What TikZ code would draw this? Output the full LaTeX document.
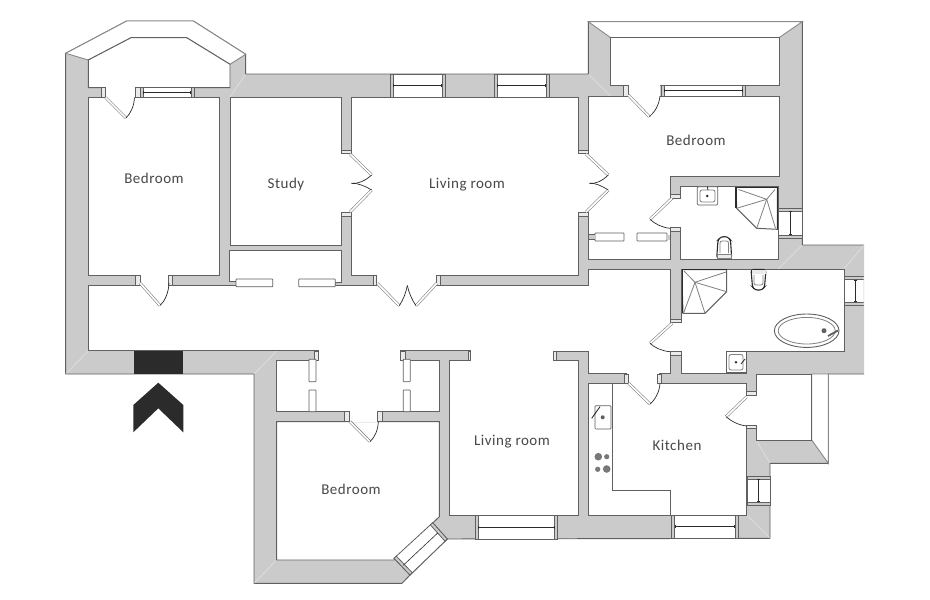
\documentclass[tikz,border=0pt]{standalone}
\usepackage{fontspec}
\usetikzlibrary{arrows.meta}
\setmainfont{Carlito}[LetterSpace=3.5]
\definecolor{wallc}{HTML}{CBCBCB}
\definecolor{linec}{HTML}{606060}
\definecolor{inkc}{HTML}{2B2B2B}
\definecolor{textc}{HTML}{484848}
\tikzset{
  wallfill/.style={fill=wallc,draw=none},
  outline/.style={draw=linec,line width=.95pt,line join=miter},
  room/.style={fill=white,draw=linec,line width=.95pt,line join=miter},
  parapet/.style={fill=white,draw=linec!75,line width=.9pt,line join=miter},
  gapfill/.style={fill=white,draw=none},
  jamb/.style={fill=wallc!40,draw=linec,line width=.7pt},
  leaf/.style={draw=linec!85,double=white,double distance=1.7pt,line width=.55pt},
  swing/.style={draw=inkc,line width=.7pt},
  slidepanel/.style={fill=white,draw=linec,line width=.7pt,rounded corners=.6pt},
  winbox/.style={fill=white,draw=linec,line width=.8pt},
  winbar/.style={draw=inkc,line width=.6pt},
  fixture/.style={fill=white,draw=linec,line width=.7pt},
  fixthin/.style={draw=linec!80,line width=.8pt},
  mitre/.style={draw=white,opacity=.35,line width=.8pt},
  label/.style={font=\fontsize{15}{15}\selectfont,text=textc,inner sep=0pt},
}
% horizontal window
\newcommand{\hwin}[4]{%
  \pgfmathsetmacro{\wym}{(#2+#4)/2}%
  \draw[winbox] (#1,#2) rectangle (#3,#4);
  \pgfmathsetmacro{\wxa}{#1+3}\pgfmathsetmacro{\wxb}{#3-3}%
  \draw[winbox,fill=wallc] (#1,#2) rectangle (\wxa,#4);
  \draw[winbox,fill=wallc] (\wxb,#2) rectangle (#3,#4);
  \draw[winbar,{Bar[width=3pt]}-{Bar[width=3pt]}] (\wxa,\wym) -- (\wxb,\wym);
}
% vertical window
\newcommand{\vwin}[4]{%
  \pgfmathsetmacro{\wxm}{(#1+#3)/2}%
  \draw[winbox] (#1,#2) rectangle (#3,#4);
  \pgfmathsetmacro{\wya}{#2+3}\pgfmathsetmacro{\wyb}{#4-3}%
  \draw[winbox,fill=wallc] (#1,#2) rectangle (#3,\wya);
  \draw[winbox,fill=wallc] (#1,\wyb) rectangle (#3,#4);
  \draw[winbar,{Bar[width=3pt]}-{Bar[width=3pt]}] (\wxm,\wya) -- (\wxm,\wyb);
}
\newcommand{\showerfan}[2]{\foreach \p in {#2}{\draw[fixthin] (#1) -- \p;}}
\begin{document}
\begin{tikzpicture}[x=1pt,y=-1pt]
\useasboundingbox (0,0) rectangle (930,600);
% wall mass
\fill[wallc] (65.7,53.3) -- (126.7,21) -- (193.3,21) -- (245.7,54.3) -- (245.7,74) -- (588.3,74) -- (588.3,21.7) -- (802.3,21.7) -- (802.3,245) -- (864,245) -- (864,374) -- (828.3,374) -- (828.3,463.3) -- (770,463.3) -- (770,538.3) -- (447.3,539) -- (410,575) -- (402,583.3) -- (254,583.3) -- (254,374) -- (65.7,374) -- cycle;
\draw[outline] (864,245) -- (802.3,245) -- (802.3,21.7) -- (588.3,21.7) -- (588.3,74) -- (245.7,74) -- (245.7,54.3) -- (193.3,21) -- (126.7,21) -- (65.7,53.3) -- (65.7,374) -- (254,374) -- (254,583.3) -- (402,583.3) -- (410,575) -- (447.3,539) -- (770,538.3) -- (770,463.3) -- (828.3,463.3) -- (828.3,374) -- (864,374);
% parapets
\draw[parapet] (65.7,53.3) -- (126.7,21) -- (193.3,21) -- (245.7,54.3) -- (230,64.3) -- (186.7,37.7) -- (131,37.7) -- (88.3,60) -- cycle;
\draw[parapet] (588.3,21.7) -- (802.3,21.7) -- (779,37.7) -- (610.7,37.7) -- cycle;
\draw[parapet] (811.7,374) -- (828.3,374) -- (828.3,463.3) -- (811.7,440) -- cycle;
% pale wall mitres
\draw[mitre] (245.7,74) -- (230,97);
\draw[mitre] (588.3,74) -- (610.7,96);
\draw[mitre] (65.7,374) -- (88.3,351);
\draw[mitre] (254,374) -- (276.7,351);
\draw[mitre] (254,583.3) -- (276.7,560);
\draw[mitre] (770,538.3) -- (746.7,515);
\draw[mitre] (802.3,245) -- (778.3,269);
\draw[mitre] (864,245) -- (844,269);
\draw[mitre] (770,463.3) -- (756,440);
% rooms
\draw[room] (88.3,60) -- (131,37.7) -- (186.7,37.7) -- (230,64.3) -- (230,87.7) -- (88.3,87.7) -- cycle;
\draw[room] (610.7,37.7) rectangle (779,85);
\draw[room] (88.3,97.3) rectangle (219.3,275);
\draw[room] (230,97.3) rectangle (341,245);
\draw[room] (351.5,97.3) -- (578.3,97.3) -- (578.3,275) -- (351.5,275) -- cycle;
\draw[room] (588.3,96) -- (779,96) -- (779,176) -- (670,176) -- (670,259) -- (588.3,259) -- cycle;
\draw[room] (680.5,186.7) rectangle (778.3,259);
\draw[room] (681,269) -- (844,269) -- (844,351) -- (746.7,351) -- (746.7,373.3) -- (681,373.3) -- cycle;
% hall with the lower living room
\draw[room] (88.3,285) -- (229.3,285) -- (229.3,250) -- (341.7,250) -- (341.7,282) -- (335.3,282) -- (335.3,285.5) -- (588.3,285.5) -- (588.3,269) -- (670,269) -- (670,373.3) -- (588.3,373.3) -- (588.3,351) -- (553.3,351) -- (553.3,360.7) -- (578.3,360.7) -- (578.3,515) -- (449,515) -- (449,360.7) -- (470.7,360.7) -- (470.7,350) -- (400.7,350) -- (400.7,360.7) -- (439.3,360.7) -- (439.3,411.7) -- (276.7,411.7) -- (276.7,360.7) -- (318,360.7) -- (318,350.7) -- (88.3,350.7) -- cycle;
\draw[room] (276.7,421.7) -- (439.3,421.7) -- (439.3,516.7) -- (394,560) -- (276.7,560) -- cycle;
\draw[room] (588.3,383.5) -- (746.7,383.5) -- (746.7,515) -- (588.3,515) -- cycle;
\draw[room] (756,374) -- (811.7,374) -- (811.7,440) -- (756,440) -- cycle;
% door openings
\fill[gapfill] (104,87) rectangle (136,98);
\fill[gapfill] (139,274) rectangle (169,286);
\fill[gapfill] (340.5,152) rectangle (352,213);
\fill[gapfill] (577.8,152) rectangle (588.8,213);
\fill[gapfill] (375,274.5) rectangle (437,286);
\fill[gapfill] (628,84.5) rectangle (660,96.5);
\fill[gapfill] (669.5,197) rectangle (681,228);
\fill[gapfill] (669.5,322) rectangle (681.5,352);
\fill[gapfill] (347,411) rectangle (379,422.3);
\fill[gapfill] (627,373) rectangle (659,384);
\fill[gapfill] (746.2,394) rectangle (756.5,426);
\fill[gapfill] (230,276) rectangle (335,290);
% closet wall stub on the left
\fill[wallc] (229.3,282) rectangle (236,285);
\draw[linec,line width=.7pt] (229.3,281) -- (236,281) (229.3,285) -- (236,285);
% jambs
\draw[jamb] (101.7,87.7) rectangle (105.7,97.3);
\draw[jamb] (135,87.7) rectangle (140,97.3);
\draw[jamb] (135.3,275) rectangle (140,285);
\draw[jamb] (168,275) rectangle (172.7,285);
\draw[jamb] (341,150) rectangle (351.5,153.3);
\draw[jamb] (341,212) rectangle (351.5,216);
\draw[jamb] (578.3,150) rectangle (588.3,153.3);
\draw[jamb] (578.3,212) rectangle (588.3,216);
\draw[jamb] (373,275) rectangle (376.7,285.5);
\draw[jamb] (436,275) rectangle (440,285.5);
\draw[jamb] (623.3,85) rectangle (628.3,96);
\draw[jamb] (670,194) rectangle (680.7,198.3);
\draw[jamb] (670,227.3) rectangle (680.7,231.7);
\draw[jamb] (670,319) rectangle (681,322.7);
\draw[jamb] (670,351.7) rectangle (681,355);
\draw[jamb] (344.3,411.7) rectangle (349,421.7);
\draw[jamb] (377.7,411.7) rectangle (382.3,421.7);
\draw[jamb] (624,374) rectangle (628.7,383.3);
\draw[jamb] (657.3,374) rectangle (661.7,383.3);
\draw[jamb] (746.7,391.7) rectangle (756,395);
\draw[jamb] (746.7,425) rectangle (756,428);
\draw[jamb] (314,351) rectangle (318.3,360.7);
\draw[jamb] (400.7,351) rectangle (405,360.7);
\draw[jamb] (468,351) rectangle (470.7,360.7);
\draw[jamb] (553.3,351) rectangle (556,360.7);
% door leaves and swings
\draw[leaf] (105.5,97.5) -- (126,118);
\draw[swing] (126,118) .. controls (131,113) and (134,106) .. (134.5,97.5);
\draw[leaf] (140,283) -- (160,305.5);
\draw[swing] (160,305.5) .. controls (165,301) and (168.5,293) .. (169,283);
\draw[leaf] (350,154) -- (371.7,175);
\draw[swing] (371.7,175) .. controls (365,181) and (358,184) .. (351.5,183.3);
\draw[leaf] (371.7,190) -- (350,212);
\draw[swing] (371.7,190) .. controls (365,186) and (358,183) .. (351.5,183.3);
\draw[leaf] (586,154) -- (608.3,175);
\draw[swing] (608.3,175) .. controls (602,181) and (596,184) .. (589.5,183.3);
\draw[leaf] (608.3,190) -- (586,212);
\draw[swing] (608.3,190) .. controls (602,186) and (596,183) .. (589.5,183.3);
\draw[leaf] (377.3,283.3) -- (399.3,305.7);
\draw[leaf] (436.7,283.3) -- (416,305.7);
\draw[swing] (399.3,305.7) .. controls (403,300) and (406,293) .. (407.3,285.5);
\draw[swing] (416,305.7) .. controls (412,300) and (409,293) .. (407.3,285.5);
\draw[leaf] (628.3,95) -- (649.3,116.7);
\draw[swing] (649.3,116.7) .. controls (655,112) and (659,105) .. (660,96);
\draw[leaf] (672,198.3) -- (650,219.3);
\draw[swing] (650,219.3) .. controls (655,224) and (662,227.5) .. (670,228.3);
\draw[leaf] (672,323.3) -- (650,343.3);
\draw[swing] (650,343.3) .. controls (655,348) and (662,351) .. (670,351.7);
\draw[leaf] (350,421.7) -- (370,441.7);
\draw[swing] (370,441.7) .. controls (375,437) and (378,430) .. (378.3,421.7);
\draw[leaf] (628.7,383.3) -- (650,404);
\draw[swing] (650,404) .. controls (655,400) and (659.5,392) .. (660,383.3);
\draw[leaf] (746.7,396.7) -- (726,416.7);
\draw[swing] (726,416.7) .. controls (731,421) and (738,425) .. (746.7,426);
% sliding panels
\draw[slidepanel] (236,279) rectangle (272.7,286.7);
\draw[slidepanel] (298.7,279) rectangle (335.3,286.7);
\draw[slidepanel] (595,233) rectangle (624,241);
\draw[slidepanel] (637,233) rectangle (667,241);
\fill[wallc] (588.8,234.5) rectangle (595,239.5);
\draw[linec,line width=.7pt] (588.3,234.5) -- (595,234.5) (588.3,239.5) -- (595,239.5);
\fill[wallc] (667,234.5) rectangle (669.5,239.5);
\draw[slidepanel] (309,359.3) rectangle (316,381.7);
\draw[slidepanel] (309,390) rectangle (316,411.7);
\draw[slidepanel] (403.3,359.3) rectangle (410.3,381.7);
\draw[slidepanel] (403.3,390) rectangle (410.3,411.7);
% windows
\hwin{390}{74}{445}{97.3}
\hwin{494}{74}{549}{97.3}
\hwin{140}{87.7}{194}{97.3}
\hwin{661}{85}{745.7}{96}
\hwin{475}{515}{557.3}{539}
\hwin{671.7}{515}{738}{538.3}
\vwin{778.3}{208}{802.3}{238}
\begin{scope}
\clip (800,200) rectangle (863.6,320);
\vwin{844}{276.7}{866}{305}
\end{scope}
\vwin{747}{476}{770}{505}
% diagonal window
\draw[winbox] (432.7,522.7) -- (447.3,539) -- (410,575) -- (394,558.3) -- cycle;
\draw[winbox,fill=wallc] (432.7,522.7) -- (447.3,539) -- (445,541.2) -- (430.4,524.9) -- cycle;
\draw[winbox,fill=wallc] (396.3,556.1) -- (412.3,572.8) -- (410,575) -- (394,558.3) -- cycle;
\draw[winbar] (437.8,532.9) -- (403,565.5);
% entrance and arrow
\fill[inkc] (134,351.3) rectangle (183.3,374);
\fill[inkc] (158.3,382.7) -- (183.3,405) -- (183.3,432.3) -- (158.3,408.3) -- (133.3,432.3) -- (133.3,405) -- cycle;
% sinks
\draw[fixture,rounded corners=1pt] (697.3,186.7) rectangle (717.7,205);
\draw[fixthin,rounded corners=2pt] (700,190) rectangle (715,202);
\fill[inkc] (707.3,196) circle (1.4);
\draw[inkc,line width=.8pt] (707.3,186.7) -- (708,190);
\draw[fixture] (726.7,351.7) rectangle (746,372.7);
\draw[fixthin,rounded corners=2pt] (729,354.5) rectangle (743,370);
\fill[inkc] (736,362.3) circle (1.4);
\draw[inkc,line width=.8pt] (741,364) -- (745,359);
\draw[fixture,rounded corners=1pt] (595,405.7) rectangle (611,429);
\fill[linec] (602.7,417.3) circle (2);
\draw[inkc,line width=.9pt] (591.7,418.3) -- (600,406.7);
% counter and hob
\draw[outline] (612.7,383.5) -- (612.7,490) -- (670,490) -- (670,515);
\fill[linec!85] (598.3,456.7) circle (3.8);
\fill[linec!85] (606.7,456.7) circle (2.6);
\fill[linec!85] (597.7,469.3) circle (2.6);
\fill[linec!85] (606.7,469) circle (3.8);
% showers
\draw[fixture,line width=1pt] (736,187.3) -- (777.3,187.3) -- (777.3,229.3) -- (756.7,228.3) -- (736.7,208.3) -- cycle;
\draw[inkc,line width=1.2pt] (736,208) -- (736,187.3) -- (777.3,187.3) -- (777.3,229.3);
\coordinate (sa) at (766.7,199.3);
\showerfan{sa}{(738.5,189.5),(736.7,208.3),(756.7,228.3),(775.5,228.3),(775,189.5)}
\draw[fixture,line width=1pt] (681.7,269.5) -- (726.7,269.5) -- (726.7,291.7) -- (705,313.3) -- (683,313.3) -- cycle;
\draw[inkc,line width=1.2pt] (682.5,313.3) -- (682.5,269.5) -- (726.7,269.5);
\coordinate (sb) at (695,282.3);
\showerfan{sb}{(684,271),(726,272),(726.7,291.7),(705,313.3),(683.5,313.3)}
% toilets
\draw[fixture,draw=inkc,line width=1.1pt,rounded corners=2.5pt] (716.7,258.5) -- (718,240) -- (721,236.7) -- (727.5,236.7) -- (730.5,240) -- (731.7,258.5) -- cycle;
\draw[fixthin,fill=wallc!40] (717.5,258.5) rectangle (731,254);
\draw[fixthin,rounded corners=2pt] (720,253) -- (720,241) -- (728.5,241) -- (728.5,253);
\draw[fixture,draw=inkc,line width=1.1pt,rounded corners=2.5pt] (751,269.5) -- (752.5,287) -- (755,290) -- (762,290) -- (764.5,287) -- (766,269.5) -- cycle;
\fill[wallc!40] (752,270) rectangle (765.5,274);
\draw[fixthin,rounded corners=2pt] (754,275) -- (754,285) -- (763,285) -- (763,275);
% bath
\draw[fixture,line width=.9pt] (806.7,330.7) ellipse (32.3 and 16.7);
\draw[fixthin] (806.7,330.7) ellipse (28.5 and 13.3);
\fill[linec] (824,330.7) circle (2.5);
\draw[linec,line width=1.8pt] (828,336) -- (838,330.5);
% labels
\node[label] (lbBedroomA) at (154,178) {Bedroom};
\node[label] (lbStudy) at (286,184.5) {Study};
\node[label] (lbLivingA) at (467,184.5) {Living room};
\node[label] (lbBedroomB) at (696,140) {Bedroom};
\node[label] (lbLivingB) at (512,441.5) {Living room};
\node[label] (lbKitchen) at (677,445) {Kitchen};
\node[label] (lbBedroomC) at (351,489) {Bedroom};
\end{tikzpicture}
\end{document}
